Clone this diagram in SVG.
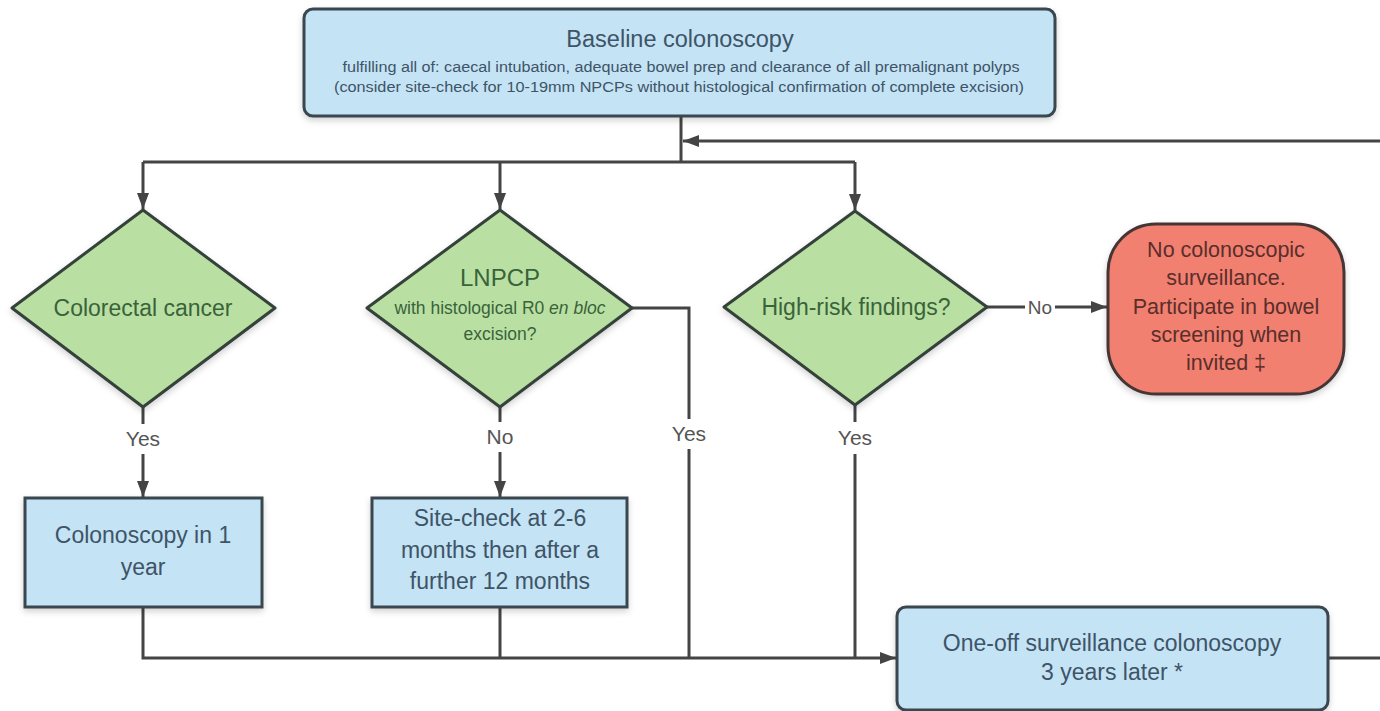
<svg xmlns="http://www.w3.org/2000/svg" width="1380" height="711" viewBox="0 0 1380 711">
<style>
.blue{fill:#c4e3f5;stroke:#3a4650;stroke-width:3}
.green{fill:#b9e0a2;stroke:#34423a;stroke-width:3;stroke-linejoin:round}
.red{fill:#f2806f;stroke:#463434;stroke-width:3}
.t{font-family:"Liberation Sans",Arial,sans-serif;text-anchor:middle}
.tb{fill:#3e5467;font-size:23px}
.ts{fill:#3e5467;font-size:14px}
.tg{fill:#39633a;font-size:23px}
.tgs{fill:#39633a;font-size:17.5px}
.tr{fill:#5a2e2b;font-size:21.5px}
.lbl{fill:#555;font-size:21px}
.ln{fill:none;stroke:#444;stroke-width:3}
</style>
<defs>
<marker id="ah" viewBox="0 0 16 12" refX="16" refY="6" markerWidth="16" markerHeight="12" orient="auto" markerUnits="userSpaceOnUse">
<path d="M0,0 L16,6 L0,12 z" fill="#444"/>
</marker>
<filter id="sh" x="-10%" y="-10%" width="120%" height="130%">
<feDropShadow dx="0" dy="3" stdDeviation="3" flood-color="#000" flood-opacity="0.18"/>
</filter>
</defs>
<rect width="1380" height="711" fill="#fff"/>

<g id="connectors">
<path class="ln" d="M681,116 V162"/>
<path class="ln" d="M143,162 H855"/>
<path class="ln" d="M143,162 V209" marker-end="url(#ah)"/>
<path class="ln" d="M500,162 V209" marker-end="url(#ah)"/>
<path class="ln" d="M855,162 V210" marker-end="url(#ah)"/>
<path class="ln" d="M1380,141 H683" marker-end="url(#ah)"/>
<path class="ln" d="M143,407 V424"/>
<path class="ln" d="M143,454 V497" marker-end="url(#ah)"/>
<path class="ln" d="M500,407 V422"/>
<path class="ln" d="M500,452 V497" marker-end="url(#ah)"/>
<path class="ln" d="M632,308 H689 V419"/>
<path class="ln" d="M689,449 V658"/>
<path class="ln" d="M855,405 V422"/>
<path class="ln" d="M855,454 V658"/>
<path class="ln" d="M987,307 H1025"/>
<path class="ln" d="M1055,307 H1107" marker-end="url(#ah)"/>
<path class="ln" d="M143,607 V658 H896" marker-end="url(#ah)"/>
<path class="ln" d="M500,607 V658"/>
<path class="ln" d="M1328,658 H1380"/>
<text class="t lbl" x="143" y="446">Yes</text>
<text class="t lbl" x="500" y="444">No</text>
<text class="t lbl" x="689" y="441">Yes</text>
<text class="t lbl" x="855" y="445">Yes</text>
<text class="t lbl" x="1040" y="314" style="font-size:19px">No</text>
</g>

<g id="baseline">
<rect class="blue" x="304" y="9" width="751" height="107" rx="9" filter="url(#sh)"/>
<text class="t tb" x="680" y="47" style="font-size:23.5px">Baseline colonoscopy</text>
<text class="t ts" x="681" y="72" textLength="677" lengthAdjust="spacingAndGlyphs">fulfilling all of: caecal intubation, adequate bowel prep and clearance of all premalignant polyps</text>
<text class="t ts" x="679" y="92" textLength="690" lengthAdjust="spacingAndGlyphs">(consider site-check for 10-19mm NPCPs without histological confirmation of complete excision)</text>
</g>

<g id="colorectal">
<path class="green" d="M143,210 L275,308 L143,407 L12,308 Z" filter="url(#sh)"/>
<text class="t tg" x="143" y="316">Colorectal cancer</text>
</g>

<g id="lnpcp">
<path class="green" d="M500,210 L632,308 L500,407 L367,308 Z" filter="url(#sh)"/>
<text class="t tg" x="500" y="286" style="font-size:24px">LNPCP</text>
<text class="t tgs" x="500" y="314">with histological R0 <tspan font-style="italic">en bloc</tspan></text>
<text class="t tgs" x="500" y="340">excision?</text>
</g>

<g id="highrisk">
<path class="green" d="M855,211 L987,307 L855,405 L724,307 Z" filter="url(#sh)"/>
<text class="t tg" x="856" y="315">High-risk findings?</text>
</g>

<g id="nosurv">
<rect class="red" x="1108" y="224" width="236" height="170" rx="48" ry="48" filter="url(#sh)"/>
<text class="t tr" x="1226" y="257">No colonoscopic</text>
<text class="t tr" x="1226" y="285">surveillance.</text>
<text class="t tr" x="1226" y="314">Participate in bowel</text>
<text class="t tr" x="1226" y="342">screening when</text>
<text class="t tr" x="1226" y="370">invited ‡</text>
</g>

<g id="colo1yr">
<rect class="blue" x="25" y="498" width="237" height="109" filter="url(#sh)"/>
<text class="t tb" x="143" y="543">Colonoscopy in 1</text>
<text class="t tb" x="143" y="575">year</text>
</g>

<g id="sitecheck">
<rect class="blue" x="372" y="498" width="255" height="109" filter="url(#sh)"/>
<text class="t tb" x="500" y="526">Site-check at 2-6</text>
<text class="t tb" x="500" y="558">months then after a</text>
<text class="t tb" x="500" y="589">further 12 months</text>
</g>

<g id="oneoff">
<rect class="blue" x="897" y="607" width="431" height="103" rx="9" filter="url(#sh)"/>
<text class="t tb" x="1112" y="651">One-off surveillance colonoscopy</text>
<text class="t tb" x="1112" y="680">3 years later *</text>
</g>
</svg>
